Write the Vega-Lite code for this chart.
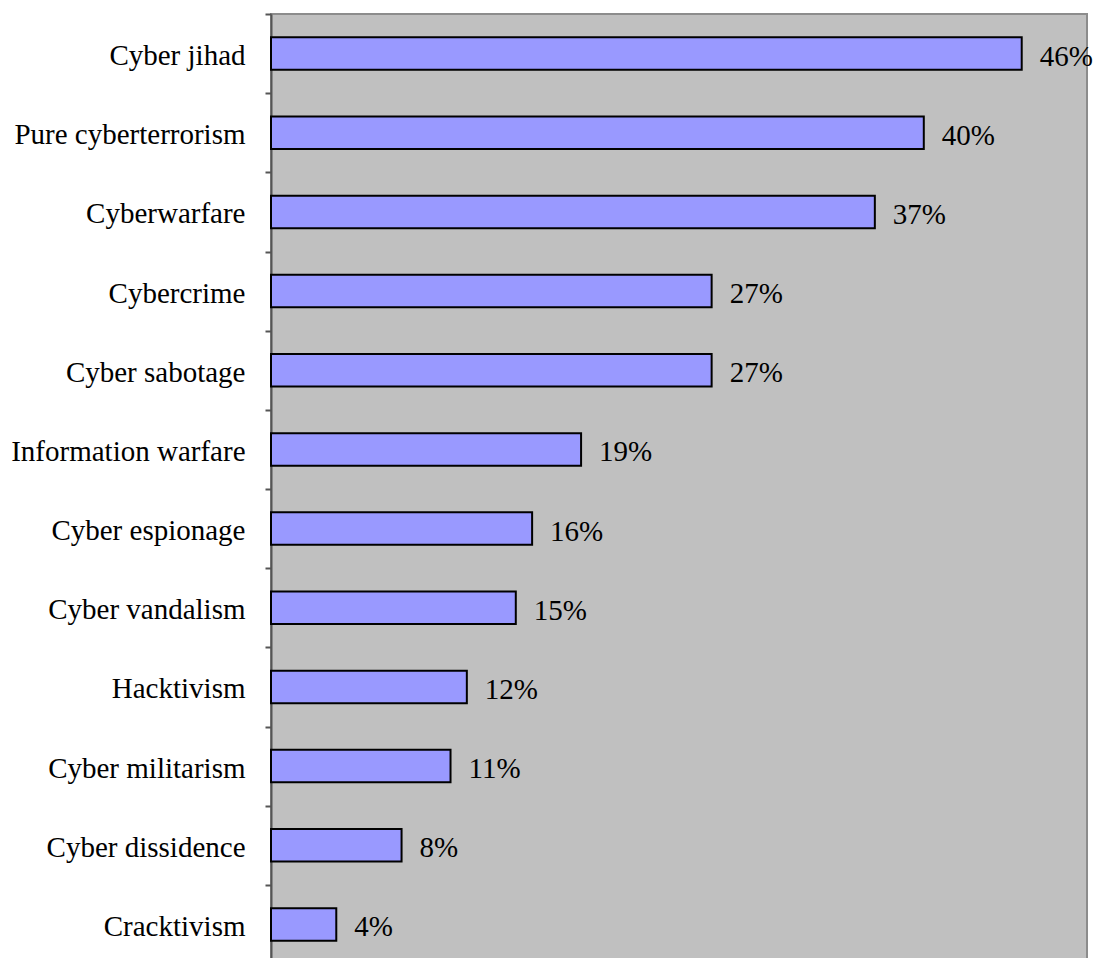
{
  "$schema": "https://vega.github.io/schema/vega-lite/v6.json",
  "autosize": {"type": "none"},
  "padding": {"left": 271, "top": 14, "right": 8, "bottom": 10},
  "width": 816,
  "height": 950,
  "background": "white",
  "config": {
    "view": {"fill": "#c0c0c0", "stroke": "#8c8c8c", "strokeWidth": 2},
    "font": "Liberation Serif"
  },
  "data": {
    "values": [
      {"category": "Cyber jihad", "value": 0.46, "label": "46%"},
      {"category": "Pure cyberterrorism", "value": 0.40, "label": "40%"},
      {"category": "Cyberwarfare", "value": 0.37, "label": "37%"},
      {"category": "Cybercrime", "value": 0.27, "label": "27%"},
      {"category": "Cyber sabotage", "value": 0.27, "label": "27%"},
      {"category": "Information warfare", "value": 0.19, "label": "19%"},
      {"category": "Cyber espionage", "value": 0.16, "label": "16%"},
      {"category": "Cyber vandalism", "value": 0.15, "label": "15%"},
      {"category": "Hacktivism", "value": 0.12, "label": "12%"},
      {"category": "Cyber militarism", "value": 0.11, "label": "11%"},
      {"category": "Cyber dissidence", "value": 0.08, "label": "8%"},
      {"category": "Cracktivism", "value": 0.04, "label": "4%"}
    ]
  },
  "encoding": {
    "y": {
      "field": "category",
      "type": "nominal",
      "sort": null,
      "scale": {"paddingInner": 0, "paddingOuter": 0},
      "axis": {
        "title": null,
        "tickBand": "extent",
        "domainColor": "#555555",
        "domainWidth": 2,
        "tickColor": "#555555",
        "tickWidth": 2,
        "tickSize": 6,
        "labelFontSize": 29,
        "labelColor": "black",
        "labelFont": "Liberation Serif",
        "labelPadding": 20,
        "labelOffset": 2,
        "labelLimit": 400
      }
    },
    "x": {
      "field": "value",
      "type": "quantitative",
      "scale": {"domain": [0, 0.5], "nice": false},
      "axis": null
    }
  },
  "layer": [
    {
      "mark": {"type": "bar", "fill": "#9999ff", "stroke": "black", "strokeWidth": 2, "cornerRadius": 0, "height": {"band": 0.41}}
    },
    {
      "mark": {"type": "text", "align": "left", "baseline": "middle", "dx": 18, "dy": 3, "fontSize": 29, "font": "Liberation Serif", "color": "black"},
      "encoding": {"text": {"field": "label"}}
    }
  ]
}
